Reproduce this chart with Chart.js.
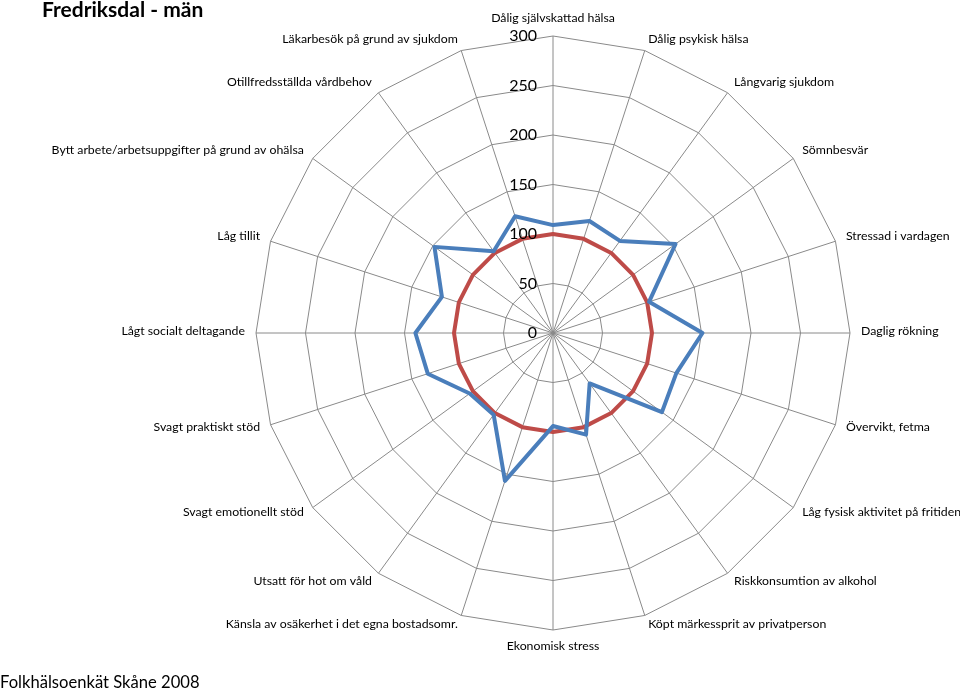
<!DOCTYPE html>
<html lang="sv">
<head>
    <meta charset="UTF-8">
    <title>Fredriksdal - män</title>
    <script src="https://cdn.jsdelivr.net/npm/chart.js@4.4.0/dist/chart.umd.min.js"></script>
    <style>
        * { margin: 0; padding: 0; box-sizing: border-box; }
        body { background: #fff; font-family: Lato, sans-serif; }
        .wrap { position: relative; width: 960px; height: 689px; overflow: hidden; }
        .title {
            position: absolute; left: 42px; top: -3px;
            font-size: 21px; font-weight: bold; line-height: 24px; color: #000;
        }
        .source {
            position: absolute; left: 0; top: 671px;
            font-size: 16.6px; line-height: 22px; color: #000;
        }
    </style>
</head>
<body>
    <div class="wrap">
        <canvas id="radar"></canvas>
        <div class="title">Fredriksdal - män</div>
        <div class="source">Folkhälsoenkät Skåne 2008</div>
    </div>

    <script>
        // Kategorier, medurs från toppen
        const categories = [
            'Dålig självskattad hälsa',
            'Dålig psykisk hälsa',
            'Långvarig sjukdom',
            'Sömnbesvär',
            'Stressad i vardagen',
            'Daglig rökning',
            'Övervikt, fetma',
            'Låg fysisk aktivitet på fritiden',
            'Riskkonsumtion av alkohol',
            'Köpt märkessprit av privatperson',
            'Ekonomisk stress',
            'Känsla av osäkerhet i det egna bostadsomr.',
            'Utsatt för hot om våld',
            'Svagt emotionellt stöd',
            'Svagt praktiskt stöd',
            'Lågt socialt deltagande',
            'Låg tillit',
            'Bytt arbete/arbetsuppgifter på grund av ohälsa',
            'Otillfredsställda vårdbehov',
            'Läkarbesök på grund av sjukdom'
        ];

        // Fredriksdal (index, Skåne = 100)
        const fredriksdal = [109, 119, 115, 153, 102, 151, 131, 136, 63, 108,
                             94, 157, 102, 104, 133, 139, 118, 148, 102, 124];

        // Skåne referens
        const skane = [100, 100, 100, 100, 100, 100, 100, 100, 100, 100,
                       100, 100, 100, 100, 100, 100, 100, 100, 100, 100];

        // Skala
        const scaleMin = 0;
        const scaleMax = 300;
        const scaleStep = 50;

        // Ritar axeltal och kategorinamn på Excel-vis
        const radarText = {
            id: 'radarText',
            afterDatasetsDraw(chart) {
                const r = chart.scales.r;
                const ctx = chart.ctx;
                ctx.save();
                ctx.fillStyle = '#000';

                ctx.font = '16px Lato';
                ctx.textAlign = 'right';
                ctx.textBaseline = 'middle';
                r.ticks.forEach(t => {
                    const y = r.yCenter - r.getDistanceFromCenterForValue(t.value);
                    ctx.fillText(String(t.value), r.xCenter - 16, y);
                });

                ctx.font = '12.3px Lato';
                chart.data.labels.forEach((lab, i) => {
                    const p = r.getPointPosition(i, r.drawingArea + 11);
                    const a = r.getIndexAngle(i);
                    const s = Math.sin(a);
                    const c = Math.cos(a);
                    if (Math.abs(s) < 0.01) {
                        ctx.textAlign = 'center';
                        ctx.textBaseline = c > 0 ? 'bottom' : 'top';
                    } else {
                        ctx.textAlign = s > 0 ? 'left' : 'right';
                        ctx.textBaseline = 'middle';
                    }
                    ctx.fillText(lab, p.x, p.y - (Math.abs(s) < 0.01 ? 1 : 1.5));
                });
                ctx.restore();
            }
        };

        const chart = new Chart(document.getElementById('radar'), {
            type: 'radar',
            data: {
                labels: categories,
                datasets: [{
                    label: 'Fredriksdal',
                    data: fredriksdal,
                    borderColor: '#4A7EBB',
                    borderWidth: 4,
                    pointRadius: 0,
                    fill: false
                }, {
                    label: 'Skåne',
                    data: skane,
                    borderColor: '#BE4B48',
                    borderWidth: 4,
                    pointRadius: 0,
                    fill: false
                }]
            },
            options: {
                responsive: true,
                maintainAspectRatio: false,
                animation: false,
                layout: {
                    padding: { left: 256, right: 110, top: 36, bottom: 59 }
                },
                plugins: {
                    legend: { display: false },
                    tooltip: { enabled: false }
                },
                elements: {
                    line: { tension: 0, borderJoinStyle: 'round' }
                },
                scales: {
                    r: {
                        min: scaleMin,
                        max: scaleMax,
                        ticks: { stepSize: scaleStep, display: false },
                        grid: { color: '#8a8a8a', lineWidth: 1 },
                        angleLines: { color: '#8a8a8a', lineWidth: 1 },
                        pointLabels: { display: false }
                    }
                }
            },
            plugins: [radarText]
        });
    </script>
</body>
</html>
